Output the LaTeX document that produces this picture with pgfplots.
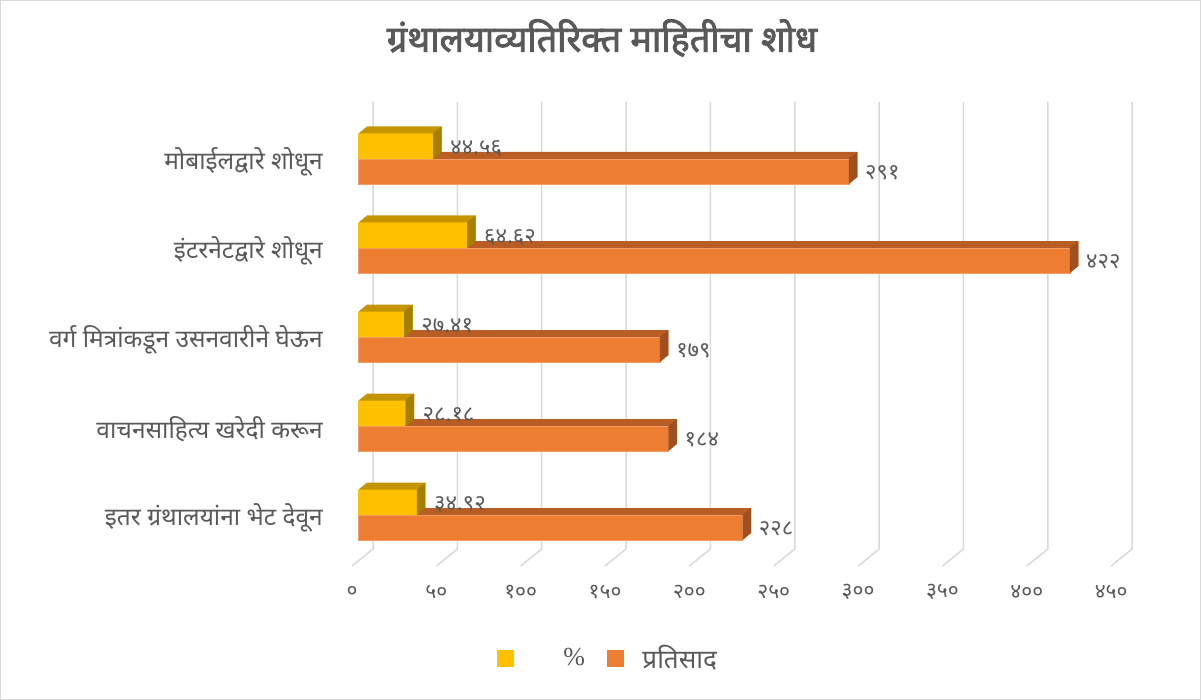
\documentclass[border=0pt]{standalone}
\usepackage{pgfplots}
\pgfplotsset{compat=1.18}
\usepackage{pgfplotstable}
\usepackage{fontspec}
\setmainfont{Noto Sans}[Script=Devanagari]
\newfontfamily\titlefont{Noto Sans}[Script=Devanagari, FakeBold=2.5]
\newfontfamily\seriffont{Liberation Serif}

\definecolor{yF}{HTML}{FFC000}
\definecolor{yT}{HTML}{C49500}
\definecolor{yS}{HTML}{A67E00}
\definecolor{oF}{HTML}{ED7D31}
\definecolor{oT}{HTML}{B85E25}
\definecolor{oS}{HTML}{9E5020}
\definecolor{txt}{HTML}{595959}
\definecolor{gridc}{HTML}{D9D9D9}

\pgfdeclareplotmark{sideO}{%
  \pgfpathmoveto{\pgfqpoint{0pt}{-12.5pt}}%
  \pgfpathlineto{\pgfqpoint{8.5pt}{-5.5pt}}%
  \pgfpathlineto{\pgfqpoint{8.5pt}{19.5pt}}%
  \pgfpathlineto{\pgfqpoint{0pt}{12.5pt}}%
  \pgfpathclose\pgfusepathqfill}
\pgfdeclareplotmark{sideY}{%
  \pgfpathmoveto{\pgfqpoint{0pt}{-12.75pt}}%
  \pgfpathlineto{\pgfqpoint{8.5pt}{-5.75pt}}%
  \pgfpathlineto{\pgfqpoint{8.5pt}{19.75pt}}%
  \pgfpathlineto{\pgfqpoint{0pt}{12.75pt}}%
  \pgfpathclose\pgfusepathqfill}

\pgfplotstableread{
c v lab
1 291 २९१
2 422 ४२२
3 179 १७९
4 184 १८४
5 228 २२८
}\dataO
\pgfplotstableread{
c v lab
1 44.56 ४४.५६
2 64.62 ६४.६२
3 27.41 २७.४१
4 28.18 २८.१८
5 34.92 ३४.९२
}\dataY

\begin{document}
\begin{tikzpicture}
\path[use as bounding box] (0pt,0pt) rectangle (1201pt,700pt);
\draw[gridc, line width=1pt] (0.5pt,0.5pt) rectangle (1200.5pt,699.5pt);
\node[font=\titlefont\fontsize{36}{41}\selectfont, text=txt] at (602pt,662pt) {ग्रंथालयाव्यतिरिक्त माहितीचा शोध};
\begin{axis}[
  at={(358pt,134pt)}, anchor=south west,
  scale only axis, width=759.15pt, height=496pt,
  xmin=0, xmax=450, ymin=0, ymax=5.573,
  y dir=reverse, clip=false,
  axis line style={draw=none}, tick style={draw=none},
  xtick={0,50,...,450},
  xticklabels={०,५०,१००,१५०,२००,२५०,३००,३५०,४००,४५०},
  xticklabel style={anchor=center, inner sep=0pt, yshift=-26pt, xshift=-6pt, text=txt, font=\fontsize{21}{24}\selectfont},
  ytick={1,2,3,4,5},
  yticklabels={मोबाईलद्वारे शोधून, इंटरनेटद्वारे शोधून, वर्ग मित्रांकडून उसनवारीने घेऊन, वाचनसाहित्य खरेदी करून, इतर ग्रंथालयांना भेट देवून},
  yticklabel style={anchor=east, inner sep=0pt, xshift=-35pt, yshift=-3pt, text=txt, font=\fontsize{24.5}{28}\selectfont},
  legend columns=2,
  legend style={at={(axis description cs:0.1831,-0.1855)}, anchor=west, draw=none, fill=none,
    inner sep=0pt, outer sep=0pt, nodes={inner sep=0pt},
    font=\fontsize{26}{30}\selectfont, text=txt,
    /tikz/every even column/.append style={column sep=22pt}},
]
% grid lines (back wall + floor)
\pgfplotsinvokeforeach{0,50,100,150,200,250,300,350,400,450}{
  \draw[gridc, line width=1.5pt] ([xshift=-6pt]axis cs:#1,5.573) -- ([xshift=15pt,yshift=17pt]axis cs:#1,5.573) -- ++(0pt,447pt);
}
% orange series: top faces (extrusion), side faces, front
\pgfplotsinvokeforeach{1,2,3,4,5,6,7,8}{
  \addplot[xbar, bar width=25pt, bar shift=0pt, fill=oT, draw=none, xshift={#1*1.0625pt}, yshift={#1*0.875pt}, forget plot]
    table[x=v, y expr=\thisrow{c}+0.14045] {\dataO};
}
\addplot[only marks, mark=sideO, mark options={fill=oS, draw=none}, forget plot]
  table[x=v, y expr=\thisrow{c}+0.14045] {\dataO};
\addplot[xbar, bar width=25pt, bar shift=0pt, fill=oF, draw=oF!75!white, line width=0.6pt, forget plot,
  nodes near coords, point meta=explicit symbolic,
  every node near coord/.append style={anchor=west, inner sep=0pt, xshift=16pt, yshift=-1pt, text=txt, font=\fontsize{22}{25}\selectfont}]
  table[x=v, y expr=\thisrow{c}+0.14045, meta=lab] {\dataO};
% yellow series
\pgfplotsinvokeforeach{1,2,3,4,5,6,7,8}{
  \addplot[xbar, bar width=25.5pt, bar shift=0pt, fill=yT, draw=none, xshift={#1*1.0625pt}, yshift={#1*0.875pt}, forget plot]
    table[x=v, y expr=\thisrow{c}-0.14326] {\dataY};
}
\addplot[only marks, mark=sideY, mark options={fill=yS, draw=none}, forget plot]
  table[x=v, y expr=\thisrow{c}-0.14326] {\dataY};
\addplot[xbar, bar width=25.5pt, bar shift=0pt, fill=yF, draw=none, forget plot,
  nodes near coords, point meta=explicit symbolic,
  every node near coord/.append style={anchor=west, inner sep=0pt, xshift=17pt, yshift=-2pt, text=txt, font=\fontsize{22}{25}\selectfont}]
  table[x=v, y expr=\thisrow{c}-0.14326, meta=lab] {\dataY};
% legend
\addlegendimage{legend image code/.code={\fill[yF] (0pt,-8pt) rectangle (16pt,8pt);}}
\addlegendentry{\hspace{50pt}{\seriffont\%}}
\addlegendimage{legend image code/.code={\fill[oF] (0pt,-8pt) rectangle (16pt,8pt);}}
\addlegendentry{\hspace{19pt}प्रतिसाद}
\end{axis}
\end{tikzpicture}
\end{document}
